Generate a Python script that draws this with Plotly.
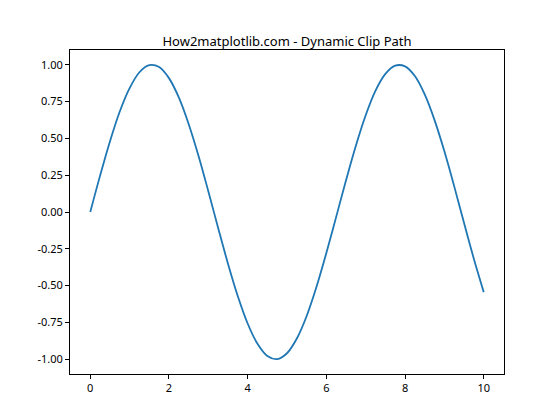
import plotly.graph_objects as go

x_vals = [0, 0.25, 0.5, 0.75, 1.0, 1.25, 1.5, 1.75, 2.0, 2.25, 2.5, 2.75, 3.0, 3.25, 3.5, 3.75,
          4.0, 4.25, 4.5, 4.75, 5.0, 5.25, 5.5, 5.75, 6.0, 6.25, 6.5, 6.75, 7.0, 7.25, 7.5, 7.75,
          8.0, 8.25, 8.5, 8.75, 9.0, 9.25, 9.5, 9.75, 10.0]
y_vals = [0.000, 0.247, 0.479, 0.682, 0.841, 0.949, 0.997, 0.984, 0.909, 0.778, 0.598, 0.382,
          0.141, -0.108, -0.351, -0.572, -0.757, -0.895, -0.978, -0.999, -0.959, -0.859, -0.706,
          -0.508, -0.279, -0.033, 0.215, 0.450, 0.657, 0.824, 0.938, 0.994, 0.989, 0.923, 0.798,
          0.624, 0.412, 0.174, -0.075, -0.319, -0.544]
x_ticks = [0, 2, 4, 6, 8, 10]
y_ticks = [-1.0, -0.75, -0.5, -0.25, 0.0, 0.25, 0.5, 0.75, 1.0]
y_tick_text = ["-1.00", "-0.75", "-0.50", "-0.25", "0.00", "0.25", "0.50", "0.75", "1.00"]
title_text = "How2matplotlib.com - Dynamic Clip Path"

fig = go.Figure(go.Scatter(x=x_vals, y=y_vals, mode="lines",
                           line=dict(color="#1f77b4", width=1.8, shape="spline")))

axis_common = dict(showgrid=False, zeroline=False, showline=True, linecolor="black",
                   linewidth=1, mirror=True, ticks="outside", ticklen=4, tickwidth=1,
                   tickcolor="black", tickfont=dict(size=11, color="black"))

fig.update_layout(
    width=560, height=420,
    margin=dict(l=62, r=64, t=42, b=54),
    paper_bgcolor="white", plot_bgcolor="white",
    font=dict(family="Noto Sans", color="black"),
    title=dict(text=title_text, x=0.5, xref="paper", xanchor="center",
               y=1 - 33 / 420, yref="container", yanchor="middle", font=dict(size=13)),
    showlegend=False,
)
fig.update_xaxes(range=[-0.515, 10.515], tickvals=x_ticks, **axis_common)
fig.update_yaxes(range=[-1.1, 1.1], tickvals=y_ticks, ticktext=y_tick_text, **axis_common)

fig.write_html("out.html")
